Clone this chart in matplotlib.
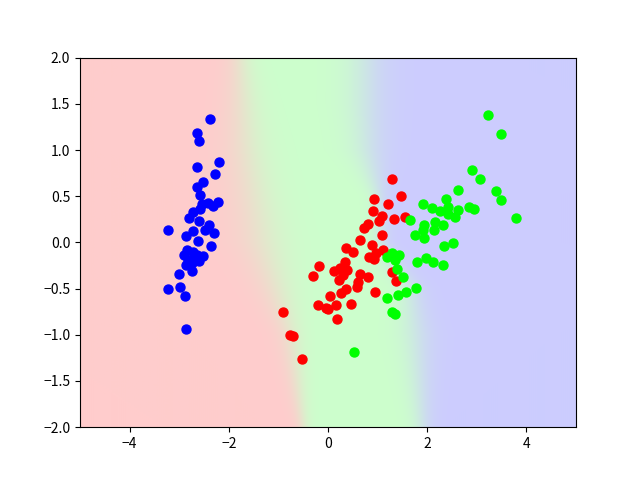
import numpy as np
import matplotlib
matplotlib.use("Agg")
import matplotlib.pyplot as plt

plt.rcParams['font.family'] = ['Noto Sans CJK JP', 'DejaVu Sans']

# PCA coordinates
blue_x = [-2.385, -2.647, -2.601, -2.198, -2.647, -2.284, -2.514, -2.635, -2.575, -2.212,
          -2.319, -2.425, -2.546, -2.581, -2.728, -2.796, -2.601, -2.405, -2.480, -2.304,
          -2.716, -2.869, -3.220, -2.615, -2.353, -2.837, -2.903, -2.716, -2.635, -2.514,
          -2.601, -2.817, -2.748, -2.863, -2.681, -2.742, -3.004, -3.226, -2.984, -2.889,
          -2.857]
blue_y = [1.338, 1.184, 1.094, 0.873, 0.815, 0.743, 0.650, 0.599, 0.515, 0.436,
          0.390, 0.426, 0.418, 0.364, 0.328, 0.266, 0.227, 0.191, 0.130, 0.101,
          0.119, 0.071, 0.133, 0.014, -0.037, -0.087, -0.141, -0.108, -0.134, -0.145,
          -0.199, -0.188, -0.224, -0.243, -0.170, -0.314, -0.340, -0.509, -0.487, -0.578,
          -0.939]

red_x = [1.284, 1.466, 0.927, 1.216, 0.901, 1.095, 1.034, 1.325, 1.552, 0.800,
         0.720, 1.089, 0.639, 0.357, 0.887, 0.510, 1.115, 0.968, 0.821, 0.921,
         -0.181, -0.308, 0.127, 0.242, 0.343, 0.389, 0.296, 0.222, 0.645, 0.813,
         0.611, 0.579, 1.290, 1.371, 0.363, 0.262, 0.942, 0.040, -0.196, -0.046,
         0.000, 0.167, 0.464, 0.181, -0.913, -0.766, -0.712, -0.518]
red_y = [0.685, 0.505, 0.469, 0.411, 0.339, 0.288, 0.234, 0.249, 0.271, 0.195,
         0.152, 0.076, 0.022, -0.065, -0.032, -0.105, -0.083, -0.119, -0.162, -0.184,
         -0.253, -0.365, -0.314, -0.278, -0.217, -0.300, -0.354, -0.408, -0.343, -0.372,
         -0.427, -0.487, -0.325, -0.422, -0.506, -0.552, -0.541, -0.585, -0.676, -0.708,
         -0.726, -0.679, -0.668, -0.827, -0.755, -1.000, -1.015, -1.264]

green_x = [3.226, 3.482, 2.909, 3.071, 2.615, 3.387, 3.494, 2.385, 1.915, 2.103,
           2.264, 2.425, 2.615, 2.837, 2.938, 2.560, 2.413, 3.784, 1.653, 1.942,
           2.157, 2.313, 2.137, 1.915, 1.754, 1.935, 2.345, 2.526, 1.290, 1.183,
           1.438, 1.357, 1.385, 1.800, 1.970, 2.123, 2.319, 1.518, 1.774, 1.579,
           1.405, 1.196, 1.290, 1.345, 0.524]
green_y = [1.375, 1.176, 0.783, 0.685, 0.563, 0.552, 0.461, 0.469, 0.411, 0.375,
           0.339, 0.379, 0.347, 0.379, 0.357, 0.274, 0.303, 0.260, 0.245, 0.191,
           0.217, 0.184, 0.136, 0.133, 0.079, 0.047, -0.037, -0.011, -0.119, -0.159,
           -0.141, -0.192, -0.289, -0.217, -0.173, -0.213, -0.243, -0.376, -0.498, -0.538,
           -0.574, -0.606, -0.758, -0.776, -1.191]

rg_y = [-2.0, -1.0, 0.0, 1.0, 2.0]
rg_x = [-0.50, -0.75, -1.31, -1.63, -1.77]
rg_w = [0.08, 0.15, 0.30, 0.25, 0.15]

gb_y = [-2.0, -1.0, -0.5, -0.25, 0.0, 0.5, 1.0, 1.5, 2.0]
gb_x = [1.90, 1.78, 1.68, 1.32, 1.08, 1.02, 0.80, 0.75, 0.75]
gb_w = [0.12, 0.20, 0.15, 0.15, 0.10, 0.10, 0.22, 0.25, 0.25]

bg_cols = np.array([[1.0, 0.8, 0.8], [0.8, 1.0, 0.8], [0.8, 0.8, 1.0]])

xx, yy = np.meshgrid(np.linspace(-5, 5, 500), np.linspace(-2, 2, 370))
p_rg = 1 / (1 + np.exp(-(xx - np.interp(yy, rg_y, rg_x)) / np.interp(yy, rg_y, rg_w)))
p_gb = 1 / (1 + np.exp(-(xx - np.interp(yy, gb_y, gb_x)) / np.interp(yy, gb_y, gb_w)))
proba = np.stack([1 - p_rg, p_rg * (1 - p_gb), p_rg * p_gb], axis=-1)
img = proba @ bg_cols

fig, ax = plt.subplots(figsize=(6.4, 4.8), dpi=100)
ax.imshow(img, extent=[-5, 5, -2, 2], origin='lower', aspect='auto', interpolation='bilinear')
ax.scatter(blue_x, blue_y, c='#0000ff', s=42, zorder=3)
ax.scatter(red_x, red_y, c='#ff0000', s=42, zorder=3)
ax.scatter(green_x, green_y, c='#00ff00', s=42, zorder=3)
ax.set_xlim(-5, 5)
ax.set_ylim(-2, 2)
ax.set_xticks([-4, -2, 0, 2, 4])
ax.set_yticks([-2.0, -1.5, -1.0, -0.5, 0.0, 0.5, 1.0, 1.5, 2.0])
fig.savefig('out.png')
